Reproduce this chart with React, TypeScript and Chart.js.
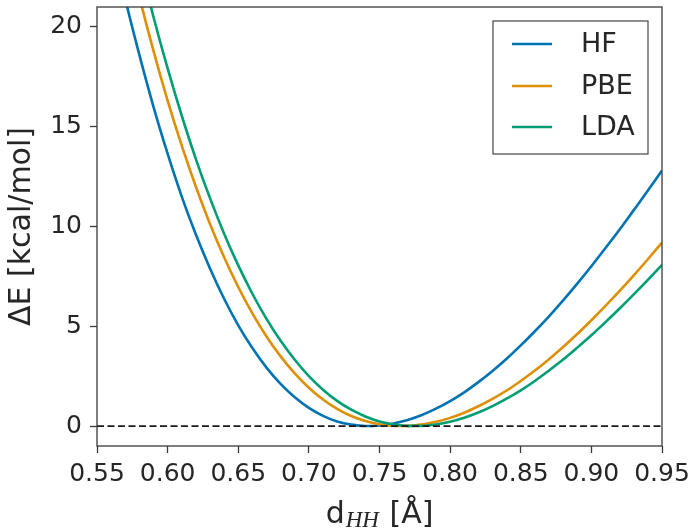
import React, { useEffect, useRef } from "react";
import { Chart, registerables } from "chart.js";

Chart.register(...registerables);

// ---- data ----
const distances = [
  0.55, 0.56, 0.57, 0.58, 0.59, 0.6, 0.61, 0.62, 0.63, 0.64, 0.65, 0.66, 0.67, 0.68,
  0.69, 0.7, 0.71, 0.72, 0.73, 0.74, 0.75, 0.76, 0.77, 0.78, 0.79, 0.8, 0.81, 0.82,
  0.83, 0.84, 0.85, 0.86, 0.87, 0.88, 0.89, 0.9, 0.91, 0.92, 0.93, 0.94, 0.95,
];
const hfEnergy = [
  27.9, 24.5, 21.4, 18.6, 16.0, 13.65, 11.5, 9.6, 7.9, 6.38, 5.05, 3.91, 2.93, 2.11,
  1.44, 0.91, 0.51, 0.23, 0.07, 0.0, 0.03, 0.13, 0.3, 0.55, 0.87, 1.25, 1.69, 2.2,
  2.76, 3.37, 4.04, 4.75, 5.5, 6.3, 7.14, 8.01, 8.92, 9.85, 10.82, 11.8, 12.81,
];
const pbeEnergy = [
  31.05, 27.62, 24.44, 21.5, 18.8, 16.31, 14.05, 11.99, 10.13, 8.46, 6.97, 5.65, 4.49, 3.49,
  2.64, 1.92, 1.33, 0.86, 0.5, 0.25, 0.09, 0.01, 0.01, 0.08, 0.21, 0.41, 0.67, 0.99,
  1.36, 1.78, 2.26, 2.78, 3.35, 3.96, 4.61, 5.3, 6.02, 6.77, 7.55, 8.36, 9.19,
];
const ldaEnergy = [
  33.16, 29.63, 26.35, 23.31, 20.5, 17.92, 15.55, 13.38, 11.42, 9.64, 8.05, 6.63, 5.37, 4.27,
  3.32, 2.5, 1.82, 1.26, 0.82, 0.48, 0.23, 0.08, 0.01, 0.01, 0.08, 0.22, 0.42, 0.68,
  1.0, 1.37, 1.79, 2.26, 2.78, 3.33, 3.93, 4.55, 5.21, 5.89, 6.6, 7.33, 8.08,
];
const zeroLineX = [0.55, 0.95];
const zeroLineY = [0, 0];
const xTickValues = [0.55, 0.6, 0.65, 0.7, 0.75, 0.8, 0.85, 0.9, 0.95];
const yTickValues = [0, 5, 10, 15, 20];
const seriesLabels = ["HF", "PBE", "LDA"];
const seriesColors = ["#0173B2", "#DE8F05", "#029E73"];
const yAxisTitle = "ΔE [kcal/mol]";
const xTitleMain = "d";
const xTitleSub = "HH";
const xTitleUnit = " [Å]";

const TEXT = "#262626";
const SPINE = "#3a3a3a";
const FONT = "DejaVu Sans";

const toPoints = (xs: number[], ys: number[]) => xs.map((x, i) => ({ x, y: ys[i] }));

const decorPlugin = {
  id: "decor",
  afterDraw(chart: any) {
    const { ctx, chartArea: a } = chart;
    ctx.save();
    // full frame (all four spines)
    ctx.strokeStyle = SPINE;
    ctx.lineWidth = 1.3;
    ctx.strokeRect(a.left, a.top, a.right - a.left, a.bottom - a.top);

    // legend box
    const bx = 493, by = 21, bw = 155, bh = 133;
    ctx.fillStyle = "#ffffff";
    ctx.fillRect(bx, by, bw, bh);
    ctx.strokeStyle = "#444444";
    ctx.lineWidth = 1.2;
    ctx.strokeRect(bx, by, bw, bh);
    const rows = [44, 86, 127];
    ctx.font = `27px "${FONT}"`;
    ctx.textBaseline = "middle";
    ctx.textAlign = "left";
    seriesLabels.forEach((lab, i) => {
      ctx.strokeStyle = seriesColors[i];
      ctx.lineWidth = 2.6;
      ctx.beginPath();
      ctx.moveTo(512, rows[i]);
      ctx.lineTo(552, rows[i]);
      ctx.stroke();
      ctx.fillStyle = TEXT;
      ctx.fillText(lab, 581, rows[i] + 1);
    });

    // x axis title with subscript
    const mainFont = `30px "${FONT}"`;
    const subFont = `italic 23px "Liberation Serif"`;
    ctx.textBaseline = "alphabetic";
    ctx.font = mainFont;
    const w1 = ctx.measureText(xTitleMain).width;
    const w3 = ctx.measureText(xTitleUnit).width;
    ctx.font = subFont;
    const w2 = ctx.measureText(xTitleSub).width + 2;
    const total = w1 + w2 + w3;
    const cx = (a.left + a.right) / 2;
    let x = cx - total / 2;
    const base = 523;
    ctx.fillStyle = TEXT;
    ctx.font = mainFont;
    ctx.fillText(xTitleMain, x, base);
    x += w1 + 1;
    ctx.font = subFont;
    ctx.fillText(xTitleSub, x, base + 4);
    x += w2 - 1;
    ctx.font = mainFont;
    ctx.fillText(xTitleUnit, x, base);
    ctx.restore();
  },
};

export default function App() {
  const ref = useRef<HTMLCanvasElement | null>(null);

  useEffect(() => {
    document.body.style.margin = "0";
    const canvas = ref.current;
    if (!canvas) return;
    Chart.defaults.font.family = FONT;
    const chart = new Chart(canvas, {
      type: "line",
      data: {
        datasets: [
          {
            label: "zero",
            data: toPoints(zeroLineX, zeroLineY),
            borderColor: "#1a1a1a",
            borderWidth: 1.8,
            borderDash: [7, 3.5],
            pointRadius: 0,
            order: 0,
          },
          ...[hfEnergy, pbeEnergy, ldaEnergy].map((ys, i) => ({
            label: seriesLabels[i],
            data: toPoints(distances, ys),
            borderColor: seriesColors[i],
            backgroundColor: seriesColors[i],
            borderWidth: 2.6,
            pointRadius: 0,
            cubicInterpolationMode: "monotone" as const,
            order: 3 - i,
          })),
        ],
      },
      options: {
        animation: false,
        responsive: false,
        maintainAspectRatio: false,
        layout: { padding: { top: 7, right: 33, left: 0, bottom: 0 } },
        plugins: { legend: { display: false }, tooltip: { enabled: false } },
        scales: {
          x: {
            type: "linear",
            min: 0.55,
            max: 0.95,
            afterBuildTicks: (s: any) => {
              s.ticks = xTickValues.map((v) => ({ value: v }));
            },
            afterFit: (s: any) => {
              s.height = 83;
              s.paddingLeft = 0;
              s.paddingRight = 0;
            },
            ticks: {
              autoSkip: false,
              maxRotation: 0,
              padding: 6,
              color: TEXT,
              font: { size: 25 },
              callback: (v: any) => Number(v).toFixed(2),
            },
            grid: {
              drawOnChartArea: false,
              drawTicks: true,
              tickLength: 7,
              tickColor: SPINE,
              tickWidth: 1.3,
            },
            border: { display: false },
          },
          y: {
            type: "linear",
            min: -1,
            max: 21,
            afterBuildTicks: (s: any) => {
              s.ticks = yTickValues.map((v) => ({ value: v }));
            },
            afterFit: (s: any) => {
              s.width = 97;
              s.paddingTop = 0;
              s.paddingBottom = 0;
            },
            ticks: {
              padding: 8,
              color: TEXT,
              font: { size: 25 },
            },
            grid: {
              drawOnChartArea: false,
              drawTicks: true,
              tickLength: 7,
              tickColor: SPINE,
              tickWidth: 1.3,
            },
            border: { display: false },
            title: {
              display: true,
              text: yAxisTitle,
              color: TEXT,
              font: { size: 30 },
              padding: { top: 4, bottom: 0 },
            },
          },
        },
      },
      plugins: [decorPlugin],
    });
    return () => chart.destroy();
  }, []);

  return (
    <div style={{ position: "relative", width: 695, height: 529, background: "#fff" }}>
      <canvas ref={ref} width={695} height={529} />
    </div>
  );
}
